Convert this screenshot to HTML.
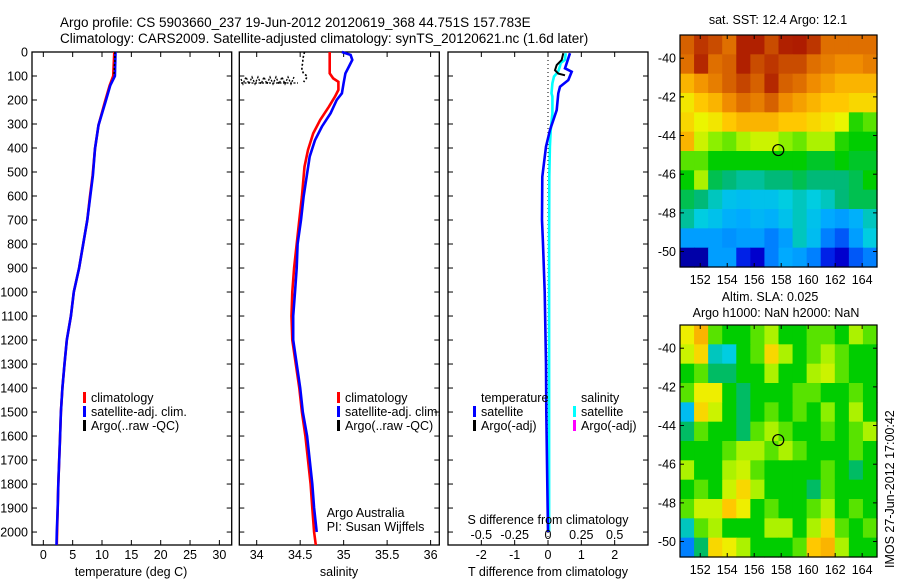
<!DOCTYPE html>
<html><head><meta charset="utf-8"><style>
body{margin:0;background:#fff;}
svg{display:block;font-family:"Liberation Sans",sans-serif;}
text{fill:#000;}
</style></head><body>
<svg id="chart" width="900" height="580" viewBox="0 0 900 580">
<text x="60" y="27" font-size="13.5">Argo profile: CS 5903660_237 19-Jun-2012 20120619_368 44.751S 157.783E</text>
<text x="60" y="43" font-size="13.5">Climatology: CARS2009. Satellite-adjusted climatology: synTS_20120621.nc (1.6d later)</text>
<g id="g1"></g>
<g id="g2"></g>
<g id="g3"></g>
<g id="m1"></g>
<g id="m2"></g>
<text x="778" y="24" font-size="12.5" text-anchor="middle">sat. SST: 12.4 Argo: 12.1</text>
<text x="770" y="301" font-size="12.5" text-anchor="middle">Altim. SLA: 0.025</text>
<text x="776" y="317" font-size="12.5" text-anchor="middle">Argo h1000: NaN h2000: NaN</text>
<text transform="translate(894,568) rotate(-90)" font-size="12.5">IMOS 27-Jun-2012 17:00:42</text>
</svg>
<script>
// ---- profile data ----
const depthsTempClim = [0,100,140,208,305,403,514,610,700,800,900,1000,1100,1200,1300,1400,1500,1600,1700,1800,1900,2000,2054];
const tempClim = [12.1,11.9,11.3,10.5,9.4,8.8,8.4,7.9,7.5,6.8,6.1,5.2,4.7,4.0,3.6,3.25,3.0,2.85,2.7,2.55,2.45,2.35,2.3];
const tempSat = [12.3,12.2,11.4,10.6,9.4,8.8,8.45,7.95,7.5,6.8,6.1,5.2,4.7,4.0,3.6,3.25,3.0,2.85,2.7,2.55,2.45,2.3,2.25];
const depthsArgoT = [0,20,40,60,80,100];
const tempArgo = [12.2,12.2,12.2,12.1,12.1,12.0];

const depthsSalClim = [0,89,110,124,158,186,228,283,339,408,478,603,700,800,900,1000,1100,1200,1300,1400,1500,1600,1700,1800,1900,2000,2054];
const salClim = [34.84,34.84,34.88,34.94,34.94,34.90,34.83,34.73,34.65,34.59,34.55,34.52,34.49,34.46,34.43,34.41,34.40,34.41,34.45,34.49,34.52,34.56,34.59,34.62,34.64,34.66,34.68];
const depthsSalSat = [0,12,33,61,89,130,172,200,255,311,367,436,603,700,800,900,1000,1100,1200,1300,1400,1500,1600,1700,1800,1900,2000];
const salSat = [34.98,35.08,35.10,35.06,35.02,35.00,34.98,34.92,34.85,34.75,34.67,34.61,34.54,34.51,34.47,34.46,34.44,34.42,34.42,34.46,34.50,34.53,34.58,34.61,34.64,34.66,34.69];
const depthsArgoS = [0,15,30,45,60,75,90,100,110,125];
const salArgo = [34.55,34.54,34.53,34.53,34.52,34.52,34.54,34.58,34.57,34.54];

const depthsTdiff = [5,68,82,117,145,172,242,325,394,520,700,800,1000,1300,1500,1800,2000];
const tDiff = [0.66,0.51,0.71,0.61,0.36,0.31,0.26,0.06,-0.06,-0.17,-0.18,-0.15,-0.1,-0.06,-0.05,-0.02,0];
const depthsSdiff = [5,33,46,60,82,102,130,172,186,256,325,394,519,800,1200,1600,2000];
const sDiff = [0.133,0.127,0.095,0.089,0.076,0.045,0.033,0.026,0.033,0.033,0.02,0.014,0.01,0.008,0.008,0.008,0.008];
const depthsArgoTd = [5,33,54,76,90,97];
const tDiffArgo = [0.46,0.41,0.26,0.21,0.31,0.51];

const depthTicks = [0,100,200,300,400,500,600,700,800,900,1000,1100,1200,1300,1400,1500,1600,1700,1800,1900,2000];
const tempTicks = [0,5,10,15,20,25,30];
const salTicks = [34,34.5,35,35.5,36];
const tdTicks = [-2,-1,0,1,2];
const sdTicks = [-0.5,-0.25,0,0.25,0.5];
const sdTickLabels = ['-0.5','-0.25','0','0.25','0.5'];

// ---- map data (colour index 0..1), rows top (-38.8) to bottom (-50.8) ----
const sstGrid = [
[0.82,0.88,0.85,0.8,0.92,0.92,0.85,0.92,0.93,0.88,0.8,0.8,0.8,0.8],
[0.8,0.9,0.8,0.82,0.92,0.85,0.88,0.85,0.85,0.8,0.78,0.76,0.76,0.78],
[0.72,0.75,0.78,0.82,0.86,0.82,0.9,0.82,0.8,0.76,0.74,0.72,0.72,0.72],
[0.66,0.7,0.72,0.76,0.8,0.78,0.82,0.76,0.74,0.72,0.7,0.7,0.68,0.68],
[0.68,0.64,0.66,0.7,0.72,0.72,0.72,0.7,0.7,0.68,0.66,0.64,0.52,0.55],
[0.72,0.62,0.58,0.56,0.6,0.62,0.62,0.58,0.56,0.6,0.6,0.52,0.5,0.5],
[0.55,0.55,0.5,0.5,0.5,0.5,0.5,0.5,0.5,0.48,0.48,0.5,0.48,0.48],
[0.5,0.6,0.46,0.44,0.42,0.42,0.44,0.44,0.46,0.44,0.44,0.44,0.46,0.5],
[0.46,0.44,0.4,0.36,0.35,0.36,0.36,0.38,0.4,0.38,0.4,0.44,0.46,0.46],
[0.42,0.38,0.36,0.33,0.32,0.34,0.33,0.36,0.4,0.36,0.32,0.3,0.33,0.4],
[0.3,0.3,0.3,0.28,0.3,0.3,0.25,0.3,0.4,0.35,0.25,0.2,0.3,0.38],
[0.05,0.05,0.3,0.3,0.15,0.1,0.25,0.32,0.3,0.25,0.15,0.1,0.2,0.25]];
const slaGrid = [
[0.65,0.72,0.55,0.5,0.5,0.55,0.6,0.5,0.5,0.55,0.55,0.5,0.6,0.55],
[0.62,0.68,0.4,0.38,0.5,0.55,0.68,0.6,0.5,0.55,0.6,0.55,0.5,0.5],
[0.5,0.55,0.45,0.45,0.5,0.5,0.6,0.5,0.5,0.6,0.62,0.55,0.5,0.5],
[0.55,0.65,0.65,0.5,0.45,0.5,0.5,0.5,0.55,0.55,0.5,0.5,0.55,0.5],
[0.35,0.68,0.62,0.5,0.45,0.5,0.55,0.5,0.55,0.5,0.58,0.5,0.6,0.5],
[0.45,0.55,0.5,0.5,0.45,0.55,0.6,0.55,0.5,0.5,0.55,0.5,0.55,0.6],
[0.5,0.5,0.5,0.55,0.6,0.6,0.55,0.6,0.55,0.5,0.5,0.5,0.55,0.5],
[0.6,0.5,0.5,0.6,0.62,0.55,0.5,0.5,0.5,0.5,0.55,0.5,0.45,0.5],
[0.5,0.55,0.5,0.62,0.68,0.6,0.5,0.5,0.5,0.45,0.55,0.5,0.5,0.5],
[0.55,0.62,0.62,0.7,0.65,0.5,0.55,0.5,0.5,0.55,0.6,0.5,0.55,0.5],
[0.4,0.55,0.6,0.5,0.5,0.5,0.6,0.6,0.5,0.6,0.68,0.55,0.5,0.55],
[0.25,0.45,0.68,0.65,0.6,0.5,0.5,0.5,0.55,0.7,0.72,0.6,0.5,0.5]];
const lonTicks = [152,154,156,158,160,162,164];
const latTicks = [-40,-42,-44,-46,-48,-50];
const argoLon = 157.783;
const argoLat = -44.751;

const NS = 'http://www.w3.org/2000/svg';
function mk(parent, tag, attrs, txt){
  const e = document.createElementNS(NS, tag);
  for (const k in attrs) e.setAttribute(k, attrs[k]);
  if (txt !== undefined) e.textContent = txt;
  parent.appendChild(e);
  return e;
}
const PT = 52, PB = 545;
function yD(d){ return PT + d/2054*(PB-PT); }
function lin(d0,d1,r0,r1){ return v => r0 + (v-d0)/(d1-d0)*(r1-r0); }

function panel(g, x0, x1, xs, ticks, labels, showDepth){
  const r = mk(g,'rect',{x:x0,y:PT,width:x1-x0,height:PB-PT,fill:'none',stroke:'#000','stroke-width':1.3});
  
  
  depthTicks.forEach(d=>{
    const y=yD(d);
    mk(g,'line',{x1:x0,x2:x0+5,y1:y,y2:y,stroke:'#000'});
    mk(g,'line',{x1:x1-5,x2:x1,y1:y,y2:y,stroke:'#000'});
    if(showDepth){
      const t=mk(g,'text',{x:x0-4,y:y+4.5,'font-size':12.5,'text-anchor':'end'},String(d));
      
      
    }
  });
  ticks.forEach((v,i)=>{
    const x=xs(v);
    mk(g,'line',{x1:x,x2:x,y1:PT,y2:PT+5,stroke:'#000'});
    mk(g,'line',{x1:x,x2:x,y1:PB-5,y2:PB,stroke:'#000'});
    const t=mk(g,'text',{x:x,y:559,'font-size':12.5,'text-anchor':'middle'},labels[i]);
    
    
  });
}
function line(g, xs, depths, vals, color, w, name, dash){
  const pts = depths.map((d,i)=>xs(vals[i]).toFixed(1)+','+yD(d).toFixed(1)).join(' ');
  const a={points:pts,fill:'none',stroke:color,'stroke-width':w};
  if(dash) a['stroke-dasharray']=dash;
  const p = mk(g,'polyline',a);
  
  
}
function legend(g, x, y, items){
  items.forEach((it,i)=>{
    mk(g,'rect',{x:x,y:y+i*14-10,width:3,height:11,fill:it[1]});
    const t=mk(g,'text',{x:x+8,y:y+i*14,'font-size':12.5},it[0]);
    
    
  });
}

// panel 1
const g1=document.getElementById('g1');
const xT=lin(-1.93,32.1,32,231.7);
panel(g1,32,231.7,xT,tempTicks,tempTicks.map(String),true);
line(g1,xT,depthsTempClim,tempClim,'#ff0000',2.6,'temp-climatology-line');
line(g1,xT,depthsTempClim,tempSat,'#0000ff',2.6,'temp-satellite-line');
line(g1,xT,depthsArgoT,tempArgo,'#000',1.5,'temp-argo-line','2,2');
legend(g1,83,402,[['climatology','#ff0000'],['satellite-adj. clim.','#0000ff'],['Argo(..raw -QC)','#000']]);
mk(g1,'text',{x:131,y:576,'font-size':12.5,'text-anchor':'middle'},'temperature (deg C)');

// panel 2
const g2=document.getElementById('g2');
const xS=lin(33.8,36.1,239.3,439.3);
panel(g2,239.3,439.3,xS,salTicks,salTicks.map(String),false);
line(g2,xS,depthsSalClim,salClim,'#ff0000',2.6,'sal-climatology-line');
line(g2,xS,depthsSalSat,salSat,'#0000ff',2.6,'sal-satellite-line');
line(g2,xS,depthsArgoS,salArgo,'#000',1.6,'sal-argo-line','2,2');
let zd='M241,79';
for(let x=243;x<=296;x+=3){ zd+=' L'+x+','+(((x-241)/3)%2<1?84:77); }
zd+=' M241,83 L298,83';
const zz=mk(g2,'path',{d:zd,stroke:'#000','stroke-width':1.3,'stroke-dasharray':'2,1.5',fill:'none'});


legend(g2,337,402,[['climatology','#ff0000'],['satellite-adj. clim.','#0000ff'],['Argo(..raw -QC)','#000']]);
mk(g2,'text',{x:326.7,y:517,'font-size':12.5},'Argo Australia');
mk(g2,'text',{x:326.7,y:531,'font-size':12.5},'PI: Susan Wijffels');
mk(g2,'text',{x:339,y:576,'font-size':12.5,'text-anchor':'middle'},'salinity');

// panel 3
const g3=document.getElementById('g3');
const xTd=lin(-3,3,448,648);
const xSd=v=>xTd(v*4);
panel(g3,448,648,xTd,tdTicks,tdTicks.map(String),false);
mk(g3,'line',{x1:xTd(0),x2:xTd(0),y1:PT,y2:PB,stroke:'#000','stroke-dasharray':'1,3'});
line(g3,xSd,depthsSdiff,sDiff,'#00ffff',2.6,'salinity-diff-line');
line(g3,xTd,depthsTdiff,tDiff,'#0000ff',2.6,'temperature-diff-line');
line(g3,xTd,depthsArgoTd,tDiffArgo,'#000',2,'argo-temp-diff-line');
mk(g3,'text',{x:481,y:402,'font-size':12.5},'temperature');
mk(g3,'text',{x:581,y:402,'font-size':12.5},'salinity');
legend(g3,473,416,[['satellite','#0000ff'],['Argo(-adj)','#000']]);
legend(g3,573,416,[['satellite','#00ffff'],['Argo(-adj)','#ff00ff']]);
mk(g3,'text',{x:548,y:524,'font-size':12.5,'text-anchor':'middle'},'S difference from climatology');
sdTicks.forEach((v,i)=>{
  const t=mk(g3,'text',{x:xSd(v),y:539,'font-size':12.5,'text-anchor':'middle'},sdTickLabels[i]);
  
  
});
mk(g3,'text',{x:548,y:576,'font-size':12.5,'text-anchor':'middle'},'T difference from climatology');

// maps
const stops=[[0,[0,0,130]],[0.12,[0,0,220]],[0.22,[0,110,255]],[0.32,[0,170,255]],[0.38,[0,205,225]],[0.44,[0,185,120]],[0.5,[0,205,0]],[0.58,[140,240,0]],[0.64,[235,245,0]],[0.7,[255,200,0]],[0.76,[240,140,0]],[0.83,[210,90,0]],[0.9,[180,40,0]],[1,[160,0,0]]];
function cmap(v){
  for(let i=1;i<stops.length;i++){
    if(v<=stops[i][0]){
      const a=stops[i-1],b=stops[i],t=(v-a[0])/(b[0]-a[0]);
      const c=a[1].map((x,k)=>Math.round(x+(b[1][k]-x)*t));
      return 'rgb('+c.join(',')+')';
    }
  }
  return 'rgb(160,0,0)';
}
function drawMap(g, top, grid, labelY){
  const L=680,R=877,B=top+232;
  const xL=lin(150.5,165.1,L,R), yL=lin(-38.8,-50.8,top,B);
  const rows=grid.length, cols=grid[0].length;
  const cw=(R-L)/cols, ch=(B-top)/rows;
  grid.forEach((row,ri)=>row.forEach((v,ci)=>{
    const c=mk(g,'rect',{x:(L+ci*cw).toFixed(2),y:(top+ri*ch).toFixed(2),width:(cw+0.6).toFixed(2),height:(ch+0.6).toFixed(2),fill:cmap(v)});
    
    
  }));
  mk(g,'rect',{x:L,y:top,width:R-L,height:B-top,fill:'none',stroke:'#000','stroke-width':1.2});
  lonTicks.forEach(v=>{
    const x=xL(v);
    mk(g,'line',{x1:x,x2:x,y1:top,y2:top+4,stroke:'#000'});
    mk(g,'line',{x1:x,x2:x,y1:B-4,y2:B,stroke:'#000'});
    const t=mk(g,'text',{x:x,y:labelY,'font-size':12.5,'text-anchor':'middle'},String(v));
    
    
  });
  latTicks.forEach(v=>{
    const y=yL(v);
    mk(g,'line',{x1:L,x2:L+4,y1:y,y2:y,stroke:'#000'});
    mk(g,'line',{x1:R-4,x2:R,y1:y,y2:y,stroke:'#000'});
    const t=mk(g,'text',{x:676,y:y+4.5,'font-size':12.5,'text-anchor':'end'},String(v));
    
    
  });
  const c=mk(g,'circle',{cx:xL(argoLon),cy:yL(argoLat),r:5.5,fill:'none',stroke:'#000','stroke-width':1.2});
  
  
}
drawMap(document.getElementById('m1'),35,sstGrid,284);
drawMap(document.getElementById('m2'),325,slaGrid,574);
</script>
</body></html>
